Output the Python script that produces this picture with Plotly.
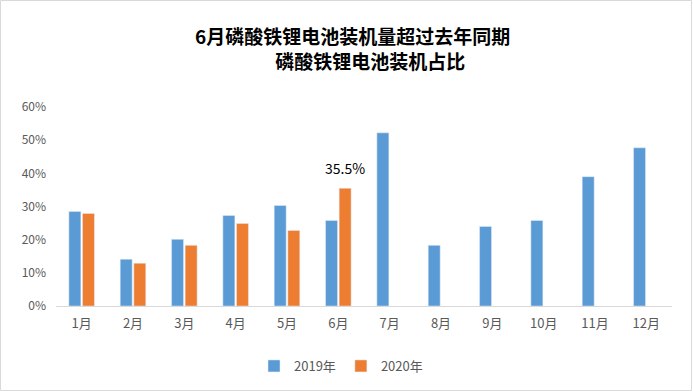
import plotly.graph_objects as go

months = ["1月", "2月", "3月", "4月", "5月", "6月", "7月", "8月", "9月", "10月", "11月", "12月"]
share_2019 = [0.285, 0.141, 0.201, 0.273, 0.303, 0.258, 0.522, 0.183, 0.240, 0.258, 0.390, 0.477]
share_2020 = [0.279, 0.129, 0.183, 0.249, 0.228, 0.355, None, None, None, None, None, None]
ytick_vals = [0, 0.1, 0.2, 0.3, 0.4, 0.5, 0.6]
ytick_text = ["0%", "10%", "20%", "30%", "40%", "50%", "60%"]
title_line1 = "6月磷酸铁锂电池装机量超过去年同期"
title_line2 = "磷酸铁锂电池装机占比"
label_month = "6月"
label_value = 0.355

W, H = 693, 391
ml, mr, mt, mb = 56, 21, 107, 85
pw = W - ml - mr
ph = H - mt - mb

def px_x(p):
    return (p - ml) / pw

def px_y(p):
    return (H - mb - p) / ph

font_main = "Noto Sans CJK SC, Noto Sans, sans-serif"

fig = go.Figure()
fig.add_trace(go.Bar(x=months, y=share_2019, name="2019年", marker_color="#5B9BD5"))
fig.add_trace(go.Bar(x=months, y=share_2020, name="2020年", marker_color="#ED7D31"))

fig.add_annotation(x=label_month, y=label_value, text=f"{label_value*100:.1f}%",
                   showarrow=False, xshift=7, yshift=8, yanchor="bottom",
                   font=dict(family=font_main, size=14, color="#000000"))

fig.add_annotation(xref="paper", yref="paper", x=px_x(193), y=px_y(48),
                   text=title_line1 + "<br>" + "\u3000" * 4 + "\u00a0" + title_line2,
                   showarrow=False, xanchor="left", yanchor="middle", align="left",
                   font=dict(family=font_main, size=19, color="#000000", weight="bold"))

fig.add_shape(type="rect", xref="paper", yref="paper",
              x0=px_x(0.5), x1=px_x(W - 1.5), y0=px_y(H - 0.5), y1=px_y(0.5),
              line=dict(color="#D9D9D9", width=1))

fig.update_layout(
    width=W, height=H,
    margin=dict(l=ml, r=mr, t=mt, b=mb, autoexpand=False),
    paper_bgcolor="white", plot_bgcolor="white",
    barmode="group", bargap=0.47, bargroupgap=0.12,
    showlegend=True,
    legend=dict(orientation="h", x=px_x(341), xanchor="center", y=px_y(366), yanchor="middle",
                font=dict(family=font_main, size=13, color="#595959"),
                itemwidth=30, traceorder="normal"),
    font=dict(family=font_main),
)
fig.update_xaxes(showline=True, linecolor="#D9D9D9", linewidth=1, ticks="",
                 tickfont=dict(family=font_main, size=13, color="#595959"),
                 showgrid=False, ticklabelstandoff=5, automargin=False)
fig.update_yaxes(range=[0, 0.6], tickvals=ytick_vals, ticktext=ytick_text, showgrid=False,
                 zeroline=False, showline=False,
                 tickfont=dict(family=font_main, size=12, color="#595959"),
                 ticklabelstandoff=9, automargin=False)

fig.write_html("out.html", config={"displayModeBar": False},
               post_script="document.body.style.margin='0';")
